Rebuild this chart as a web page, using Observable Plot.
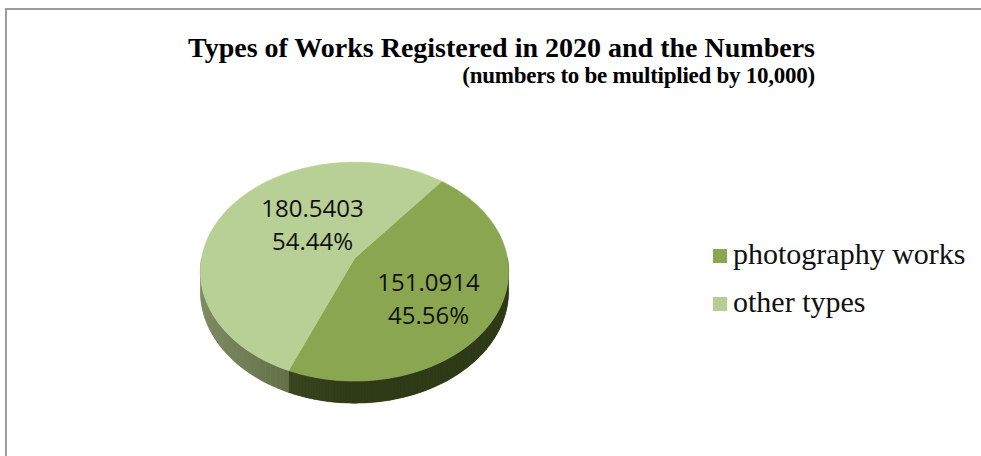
<!DOCTYPE html>
<html><head><meta charset="utf-8">
<script src="https://cdn.jsdelivr.net/npm/d3@7"></script>
<script src="https://cdn.jsdelivr.net/npm/@observablehq/plot@0.6"></script>
<style>
html,body{margin:0;padding:0;background:#fff;}
#chart{position:relative;width:981px;height:456px;overflow:hidden;background:#fff;}
#frame{position:absolute;left:5px;top:8px;width:1000px;height:470px;border-top:2px solid #9c9c9c;border-left:2px solid #9c9c9c;box-sizing:border-box;}
#plot{position:absolute;left:0;top:0;}
#title{position:absolute;left:0;width:1003px;top:34px;text-align:center;font-family:"Liberation Serif",serif;font-weight:bold;font-size:28px;line-height:1;color:#000;white-space:nowrap;}
#subtitle{position:absolute;right:166px;top:64px;font-family:"Liberation Serif",serif;font-weight:bold;font-size:23px;letter-spacing:-0.25px;line-height:1;color:#000;white-space:nowrap;}
#legend{position:absolute;left:713px;top:230px;font-family:"Liberation Serif",serif;font-size:30px;line-height:48px;color:#111;}
.item{display:flex;align-items:center;white-space:nowrap;}
.sw{width:14px;height:14px;margin-right:6px;margin-top:4px;}
</style>
</head><body>
<div id="chart">
  <div id="frame"></div>
  <div id="plot"></div>
  <div id="title">Types of Works Registered in 2020 and the Numbers</div>
  <div id="subtitle">(numbers to be multiplied by 10,000)</div>
  <div id="legend"></div>
</div>
<script>
// ---- data ----
const categories = ["photography works", "other types"];
const values = [151.0914, 180.5403];
const topColors = ["#8aa650", "#b8cf96"];
const sideDark = ["#2f3a17", "#4f5c34"];
const sideLight = ["#4a5a2a", "#838f66"];
const legendColors = ["#8aa650", "#b5cc93"];

// ---- 3D pie geometry (unit circle, tilted with perspective) ----
const START_DEG = 38.5;   // rotation of first slice
const TILT = 0.705;       // vertical squash
const PERSP = 0.12;       // perspective strength
const DEPTH = 0.127;      // thickness of the pie
const deg = Math.PI / 180;

function proj(theta, r, z) {
  const u = r * Math.sin(theta), v = r * Math.cos(theta);
  const w = 1 / (1 + PERSP * v);
  return [u * w, (v * TILT + z) * w];
}

const total = d3.sum(values);
const arcs = d3.pie().sort(null)
  .startAngle(START_DEG * deg)
  .endAngle(START_DEG * deg + 2 * Math.PI)(values);

// top faces
const topRows = [];
arcs.forEach((a, i) => {
  const id = "top" + i;
  const [cx, cy] = proj(0, 0, 0);
  topRows.push({id, x: cx, y: cy, fill: topColors[i]});
  const n = Math.ceil((a.endAngle - a.startAngle) / deg);
  for (let k = 0; k <= n; k++) {
    const t = a.startAngle + (a.endAngle - a.startAngle) * k / n;
    const [x, y] = proj(t, 1, 0);
    topRows.push({id, x, y, fill: topColors[i]});
  }
});

// side walls (front-facing part only): a base band per slice plus shaded facets
const baseRows = [];
const wallRows = [];
const interp = arcs.map((a, i) => d3.interpolateRgb(sideDark[i], sideLight[i]));
arcs.forEach((a, i) => {
  for (const off of [0, 2 * Math.PI]) {
    const lo = Math.max(a.startAngle, 90 * deg + off);
    const hi = Math.min(a.endAngle, 270 * deg + off);
    if (hi <= lo) continue;
    const n = Math.ceil((hi - lo) / deg);
    const colAt = (t) => {
      const shade = (1 - Math.sin(t)) / 2; // brighter toward the left
      return interp[i](Math.max(0, Math.min(1, (shade - 0.5) * 2)));
    };
    // base band
    const bid = `b${i}_${off}`;
    const bcol = colAt((lo + hi) / 2);
    for (let k = 0; k <= n; k++) {
      const t = lo + (hi - lo) * k / n;
      const [x, y] = proj(t, 1, 0);
      baseRows.push({id: bid, x, y, fill: bcol});
    }
    for (let k = n; k >= 0; k--) {
      const t = lo + (hi - lo) * k / n;
      const [x, y] = proj(t, 1, -DEPTH);
      baseRows.push({id: bid, x, y, fill: bcol});
    }
    // facets
    for (let k = 0; k < n; k++) {
      const s0 = lo + (hi - lo) * k / n, s1 = lo + (hi - lo) * (k + 1) / n;
      const col = colAt((s0 + s1) / 2);
      const id = `w${i}_${off}_${k}`;
      for (const [t, z] of [[s0, 0], [s1, 0], [s1, -DEPTH], [s0, -DEPTH]]) {
        const [x, y] = proj(t, 1, z);
        wallRows.push({id, x, y, fill: col});
      }
    }
  }
});

// labels
const labelRows = arcs.map((a, i) => {
  const mid = (a.startAngle + a.endAngle) / 2;
  const [x, y] = proj(mid, 0.5, 0);
  return {x, y, text: `${values[i]}\n${(values[i] / total * 100).toFixed(2)}%`};
});

const plot = Plot.plot({
  width: 981,
  height: 456,
  margin: 0,
  x: {domain: [-1, 1], range: [201, 507], axis: null},
  y: {domain: [-1, 1], range: [411, 105], axis: null},
  color: {type: "identity"},
  style: {background: "transparent"},
  marks: [
    Plot.line(baseRows, {x: "x", y: "y", z: "id", fill: "fill", stroke: "fill", strokeWidth: 0.5, curve: "linear-closed"}),
    Plot.line(wallRows, {x: "x", y: "y", z: "id", fill: "fill", stroke: "none", curve: "linear-closed"}),
    Plot.line(topRows, {x: "x", y: "y", z: "id", fill: "fill", stroke: "fill", strokeWidth: 0.6, curve: "linear-closed"}),
    Plot.text([labelRows[0]], {x: "x", y: "y", text: "text", dx: 6, dy: 10, fontSize: 24, fontFamily: "Open Sans", fill: "#111", lineHeight: 1.38, lineAnchor: "middle"}),
    Plot.text([labelRows[1]], {x: "x", y: "y", text: "text", dx: 22, dy: -9, fontSize: 24, fontFamily: "Open Sans", fill: "#111", lineHeight: 1.38, lineAnchor: "middle"})
  ]
});
document.getElementById("plot").appendChild(plot);

// legend
const leg = document.getElementById("legend");
categories.forEach((c, i) => {
  const row = document.createElement("div");
  row.className = "item";
  const sw = document.createElement("span");
  sw.className = "sw";
  sw.style.background = legendColors[i];
  const tx = document.createElement("span");
  tx.textContent = c;
  row.appendChild(sw); row.appendChild(tx);
  leg.appendChild(row);
});
</script>
</body></html>
